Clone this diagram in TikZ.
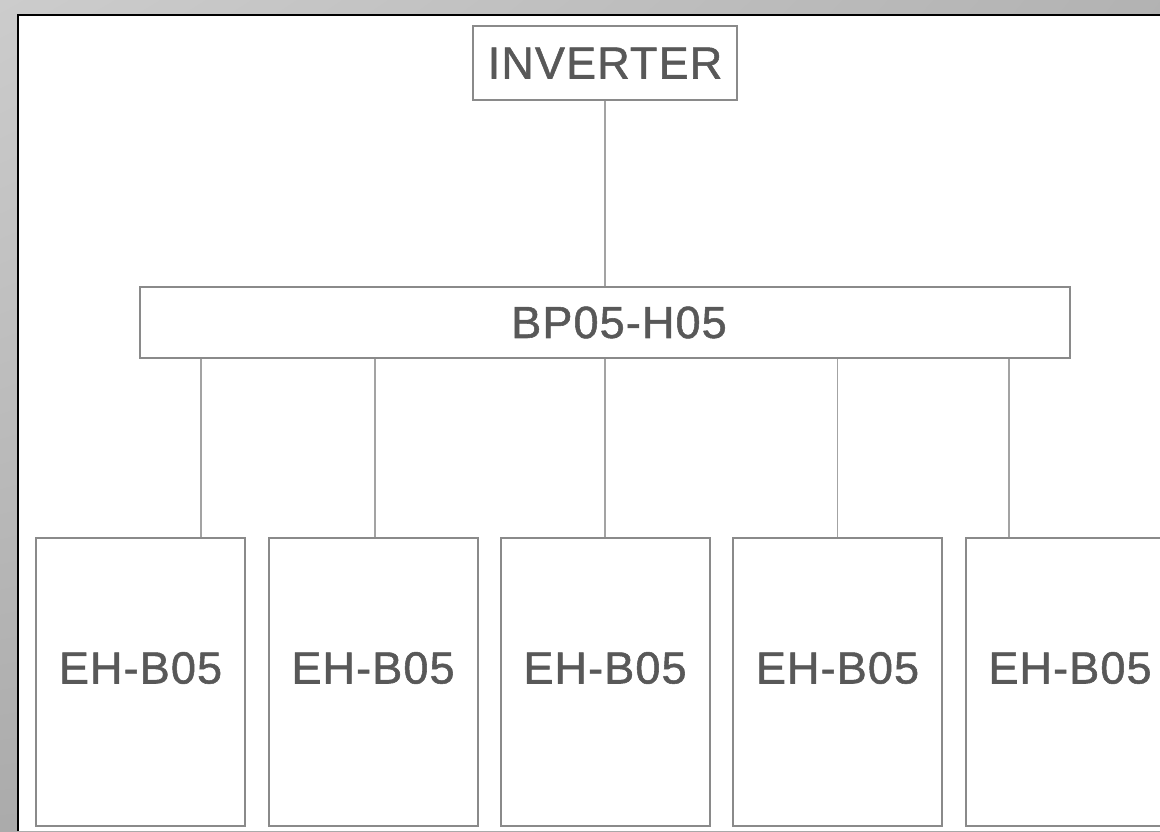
\documentclass[tikz,border=0pt]{standalone}
\usepackage{fontspec}
\setmainfont{Liberation Sans}
\newfontfamily\unitfont[LetterSpace=2.5, FakeBold=1.2]{Liberation Sans}
\usetikzlibrary{shadings}
\definecolor{boxgray}{HTML}{8A8A8A}
\definecolor{linegray}{HTML}{A3A3A3}
\definecolor{txtgray}{HTML}{585858}
\tikzset{
  unitbox/.style={draw=boxgray, line width=2pt, fill=white, inner sep=0pt},
  unittext/.style={text=txtgray, font=\unitfont\fontsize{45}{54}\selectfont},
  wire/.style={draw=linegray, line width=1.5pt}
}

\begin{document}
\begin{tikzpicture}[x=1pt,y=-1pt]
    \useasboundingbox (0,0) rectangle (1160,831);
    % grey frame round the sheet
    \shade[upper left=black!20, upper right=black!30, lower left=black!33, lower right=black!35] (0,0) rectangle (1160,831);
    \fill[white] (18,15) rectangle (1160,831);
    \draw[line width=2.5pt] (18,831) -- (18,15) -- (1160,15);

    \node[unitbox, unittext, minimum width=264pt, minimum height=74pt] (inv) at (605,63) {INVERTER};
    \node[unitbox, minimum width=930pt, minimum height=71pt,
          label={[unittext, xshift=14pt]center:BP05-H05}] (bp) at (605,322.5) {};

    % battery modules
    \foreach \i/\cx in {1/140.5,2/373,3/605,4/837.5,5/1070}
        \node[unitbox, minimum width=209pt, minimum height=288pt,
              label={[unittext, yshift=14pt]center:EH-B05}] (eh\i) at (\cx,682) {};

    \draw[wire] (inv) -- (bp);
    \foreach \i/\dx in {1/60.5,2/2,3/0,4/0,5/-61}
        \draw[wire] ([xshift=\dx pt]eh\i.north) -- ([xshift=\dx pt]eh\i.north |- bp.south);
\end{tikzpicture}
\end{document}
